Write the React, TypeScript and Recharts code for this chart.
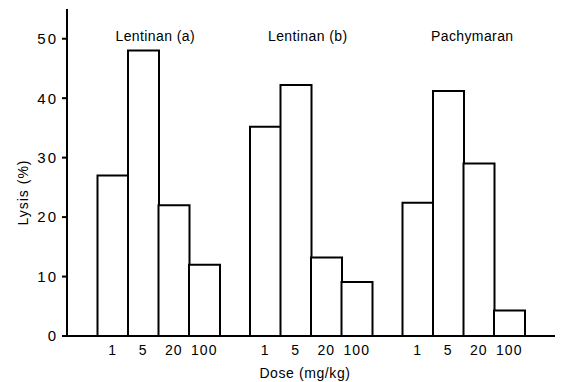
import React from 'react';
import { BarChart, Bar, XAxis, YAxis, ReferenceDot, Label } from 'recharts';

const doses = ['1', '5', '20', '100'];
const groupNames = ['Lentinan (a)', 'Lentinan (b)', 'Pachymaran'];
const lentinanA = [27, 48, 22, 12];
const lentinanB = [35.2, 42.2, 13.2, 9.1];
const pachymaran = [22.4, 41.2, 29, 4.3];
const yTicks = [0, 10, 20, 30, 40, 50];

const series = [lentinanA, lentinanB, pachymaran];

type Row = { key: string; dose: string; lysis: number | null };
const data: Row[] = [];
series.forEach((vals, gi) => {
  data.push({ key: `gap${gi}`, dose: '', lysis: null });
  vals.forEach((v, di) => {
    data.push({ key: `g${gi}d${di}`, dose: doses[di], lysis: v });
  });
});
data.push({ key: 'gap3', dose: '', lysis: null });

const doseByKey: Record<string, string> = {};
data.forEach((r) => (doseByKey[r.key] = r.dose));

const font = '"Liberation Sans", Arial, sans-serif';
const labelDx = [12, 12, 24];

export default function App() {
  return (
    <div style={{ position: 'absolute', left: 0, top: 0, background: '#fff' }}>
      <BarChart
        width={564}
        height={382}
        data={data}
        margin={{ top: 9, right: 9, bottom: 0, left: 0 }}
        barCategoryGap={0}
        barGap={0}
      >
        <XAxis
          dataKey="key"
          height={46}
          tickLine={false}
          axisLine={{ stroke: '#000', strokeWidth: 2 }}
          tickSize={6}
          tickMargin={3}
          interval={0}
          tickFormatter={(k: string) => doseByKey[k]}
          tick={{ fill: '#000', fontFamily: font, fontSize: 14, letterSpacing: 1 }}
        >
          <Label
            value="Dose (mg/kg)"
            position="insideBottom"
            offset={4}
            dx={-6}
            style={{ fill: '#000', fontFamily: font, fontSize: 14, letterSpacing: 0.6 }}
          />
        </XAxis>
        <YAxis
          width={67}
          domain={[0, 55]}
          ticks={yTicks}
          allowDataOverflow
          axisLine={{ stroke: '#000', strokeWidth: 2 }}
          tickLine={{ stroke: '#000', strokeWidth: 2 }}
          tickSize={5}
          tickMargin={4}
          tick={{ fill: '#000', fontFamily: font, fontSize: 15, letterSpacing: 2 }}
        >
          <Label
            value="Lysis (%)"
            position="center"
            angle={-90}
            dx={-10}
            dy={20}
            style={{ fill: '#000', fontFamily: font, fontSize: 14, letterSpacing: 1 }}
          />
        </YAxis>
        <Bar
          dataKey="lysis"
          fill="#fff"
          stroke="#000"
          strokeWidth={2}
          isAnimationActive={false}
        />
        {groupNames.map((name, gi) => (
          <ReferenceDot
            key={name}
            x={`g${gi}d1`}
            y={50}
            r={0}
            stroke="none"
            fill="none"
            label={{
              value: name,
              position: 'center',
              dx: labelDx[gi],
              dy: -3,
              style: { fill: '#000', fontFamily: font, fontSize: 14, letterSpacing: 0.4 },
            }}
          />
        ))}
      </BarChart>
    </div>
  );
}
